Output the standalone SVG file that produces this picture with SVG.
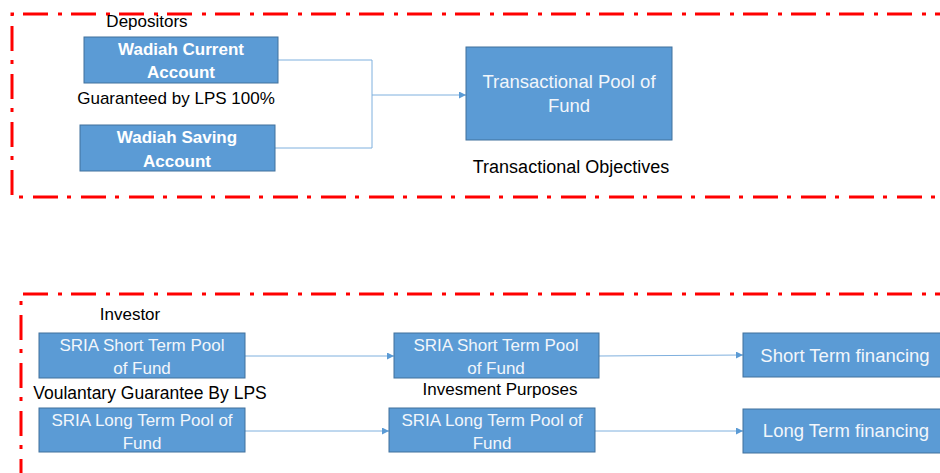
<svg xmlns="http://www.w3.org/2000/svg" width="940" height="473" viewBox="0 0 940 473">
<style>
.frame{fill:none;stroke:#ff0000;stroke-width:3;stroke-dasharray:25 9 4 10}
.node{fill:#5b9bd5;stroke:#41719c;stroke-width:1}
.nt{font-family:"Liberation Sans",Arial,sans-serif;font-size:17px;fill:#f2f6fb;text-anchor:middle}
.big{font-size:18.5px}
.bt{font-family:"Liberation Sans",Arial,sans-serif;font-size:17px;font-weight:bold;fill:#ffffff;text-anchor:middle}
.lbl{font-family:"Liberation Sans",Arial,sans-serif;font-size:17px;fill:#000000;text-anchor:middle}
.conn{fill:none;stroke:#7fb0de;stroke-width:1}
</style>
<defs>
<marker id="arr" viewBox="0 0 10 10" refX="10" refY="5" markerWidth="7" markerHeight="7" orient="auto" markerUnits="userSpaceOnUse">
<path d="M0,0 L10,5 L0,10 z" fill="#5b9bd5"/>
</marker>
</defs>
<rect width="940" height="473" fill="#ffffff"/>
<g id="frames">
<path class="frame" d="M960,14 L12,14 L12,197 L960,197"/>
<path class="frame" d="M960,294 L21,294 L21,490"/>
</g>
<g id="connectors">
<path class="conn" d="M278,60 L372,60 L372,148 L275,148"/>
<path class="conn" d="M372,95 L466,95" marker-end="url(#arr)"/>
<path class="conn" d="M245,356 L394,356" marker-end="url(#arr)"/>
<path class="conn" d="M245,431 L389,431" marker-end="url(#arr)"/>
<path class="conn" d="M599,356 L743,355" marker-end="url(#arr)"/>
<path class="conn" d="M595,431 L743,431" marker-end="url(#arr)"/>
</g>
<g id="labels">
<text class="lbl" x="147" y="27">Depositors</text>
<text class="lbl" x="176" y="104">Guaranteed by LPS 100%</text>
<text class="lbl" x="571" y="173" style="font-size:18px">Transactional Objectives</text>
<text class="lbl" x="130" y="320">Investor</text>
<text class="lbl" x="150" y="399" style="font-size:17.5px">Voulantary Guarantee By LPS</text>
<text class="lbl" x="500" y="395">Invesment Purposes</text>
</g>
<g id="wadiah-current">
<rect class="node" x="84" y="37" width="194" height="46"/>
<text class="bt" x="181" y="55">Wadiah Current</text>
<text class="bt" x="181" y="78">Account</text>
</g>
<g id="wadiah-saving">
<rect class="node" x="80" y="125" width="195" height="46"/>
<text class="bt" x="177" y="143">Wadiah Saving</text>
<text class="bt" x="177" y="167">Account</text>
</g>
<g id="transactional-pool">
<rect class="node" x="466" y="47" width="206" height="93"/>
<text class="nt" x="569" y="88" style="font-size:18.5px">Transactional Pool of</text>
<text class="nt" x="569" y="112" style="font-size:18.5px">Fund</text>
</g>
<g id="sria-short-investor">
<rect class="node" x="39" y="333" width="206" height="45"/>
<text class="nt" x="142" y="351">SRIA Short Term Pool</text>
<text class="nt" x="142" y="374">of Fund</text>
</g>
<g id="sria-long-investor">
<rect class="node" x="39" y="408" width="206" height="44"/>
<text class="nt" x="142" y="426">SRIA Long Term Pool of</text>
<text class="nt" x="142" y="449">Fund</text>
</g>
<g id="sria-short-pool">
<rect class="node" x="394" y="333" width="205" height="45"/>
<text class="nt" x="496" y="351">SRIA Short Term Pool</text>
<text class="nt" x="496" y="374">of Fund</text>
</g>
<g id="sria-long-pool">
<rect class="node" x="389" y="408" width="206" height="44"/>
<text class="nt" x="492" y="426">SRIA Long Term Pool of</text>
<text class="nt" x="492" y="449">Fund</text>
</g>
<g id="short-financing">
<rect class="node" x="743" y="333" width="205" height="44"/>
<text class="nt big" x="845" y="362">Short Term financing</text>
</g>
<g id="long-financing">
<rect class="node" x="743" y="409" width="205" height="44"/>
<text class="nt big" x="846" y="437">Long Term financing</text>
</g>
</svg>
